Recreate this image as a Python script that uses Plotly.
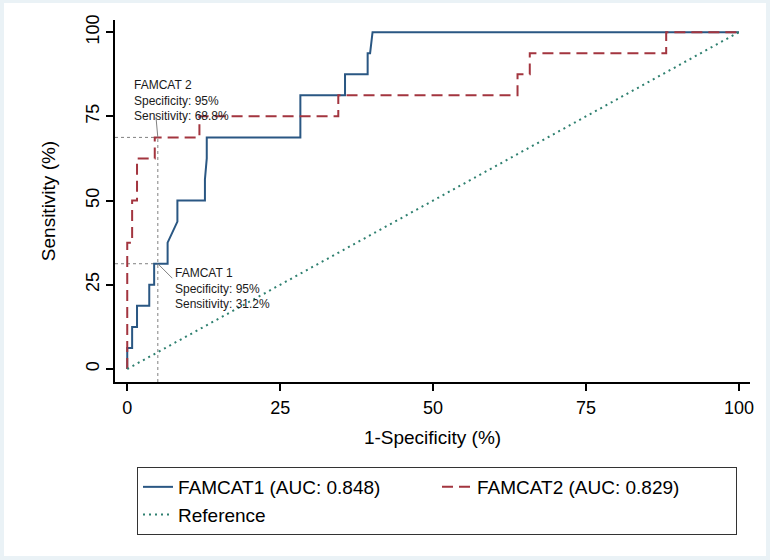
import plotly.graph_objects as go

# ---- data ----
famcat1_x = [0, 0, 0.8, 0.8, 1.6, 1.6, 3.6, 3.6, 4.4, 4.4, 6.6, 6.6, 8.2, 8.2, 12.7, 12.7,
             13.0, 13.0, 28.3, 28.3, 35.6, 35.6, 39.3, 39.3, 39.7, 40.1, 100]
famcat1_y = [0, 6.25, 6.25, 12.5, 12.5, 18.75, 18.75, 25, 25, 31.25, 31.25, 37.5, 43.75, 50,
             50, 56.25, 62.5, 68.75, 68.75, 81.25, 81.25, 87.5, 87.5, 93.75, 93.75, 100, 100]

famcat2_x = [0, 0, 0.8, 0.8, 1.6, 1.6, 4.5, 4.5, 11.8, 11.8, 34.5, 34.5, 63.8, 63.8,
             65.8, 65.8, 88.1, 88.1, 100]
famcat2_y = [0, 37.5, 37.5, 50, 50, 62.5, 62.5, 68.75, 68.75, 75, 75, 81.25, 81.25, 87.5,
             87.5, 93.75, 93.75, 100, 100]

reference_x = [0, 100]
reference_y = [0, 100]

series_names = ["FAMCAT1 (AUC: 0.848)", "FAMCAT2 (AUC: 0.829)", "Reference"]

cutoff_x = 5            # 1 - specificity (95% specificity)
cut_sens = [31.25, 68.75]   # FAMCAT 1, FAMCAT 2 sensitivity at cutoff
cut_labels = [
    ["FAMCAT 1", "Specificity: 95%", "Sensitivity: 31.2%"],
    ["FAMCAT 2", "Specificity: 95%", "Sensitivity: 68.8%"],
]

x_ticks = [0, 25, 50, 75, 100]
y_ticks = [0, 25, 50, 75, 100]
x_range = [-2.0, 101.8]
y_range = [-3.86, 103.6]

FONT = "Liberation Sans, Arial, sans-serif"
BLUE = "#2a5783"
RED = "#a3353f"
GREEN = "#2f8070"
GUIDE = "#808080"

fig = go.Figure()

# guide lines (dotted)
fig.add_trace(go.Scatter(x=[cutoff_x, cutoff_x], y=[y_range[0], max(cut_sens)], mode="lines",
                         line=dict(color=GUIDE, width=1, dash="dot"), showlegend=False, hoverinfo="skip"))
for s in cut_sens:
    fig.add_trace(go.Scatter(x=[x_range[0], cutoff_x], y=[s, s], mode="lines",
                             line=dict(color=GUIDE, width=1, dash="dot"), showlegend=False, hoverinfo="skip"))

fig.add_trace(go.Scatter(x=famcat1_x, y=famcat1_y, mode="lines", name=series_names[0],
                         line=dict(color=BLUE, width=2)))
fig.add_trace(go.Scatter(x=famcat2_x, y=famcat2_y, mode="lines", name=series_names[1],
                         line=dict(color=RED, width=2, dash="11px,6px")))
fig.add_trace(go.Scatter(x=reference_x, y=reference_y, mode="lines", name=series_names[2],
                         line=dict(color=GREEN, width=2, dash="2px,4px")))

# cutoff labels with connector lines
label_offsets = [dict(xshift=15, yshift=-25, ax=16, ay=16),
                 dict(xshift=-26, yshift=37, ax=-2, ay=-22)]
for s, lines, off in zip(cut_sens, cut_labels, label_offsets):
    fig.add_annotation(x=cutoff_x, y=s, text="<br>".join(lines), showarrow=False,
                       xanchor="left", yanchor="middle", align="left",
                       xshift=off["xshift"], yshift=off["yshift"],
                       font=dict(family=FONT, size=12, color="#1a1a1a"))
    fig.add_annotation(x=cutoff_x, y=s, text="", showarrow=True, arrowhead=0, arrowwidth=1,
                       arrowcolor=GUIDE, ax=off["ax"], ay=off["ay"], standoff=0)

W, H = 770, 560
ML, MR, MT, MB = 115, 20, 20, 178
pw, ph = W - ML - MR, H - MT - MB

def px_to_paper_x(p):
    return (p - ML) / pw

def px_to_paper_y(p):
    return (H - MB - p) / ph

# light outer band + white inner region
fig.add_shape(type="rect", xref="paper", yref="paper", layer="below",
              x0=px_to_paper_x(4), x1=px_to_paper_x(W - 4),
              y0=px_to_paper_y(H - 4), y1=px_to_paper_y(3),
              fillcolor="white", line=dict(width=0))

fig.update_layout(
    width=W, height=H,
    margin=dict(l=ML, r=MR, t=MT, b=MB, autoexpand=False),
    paper_bgcolor="#eaf2f6",
    plot_bgcolor="white",
    font=dict(family=FONT, color="#000"),
    xaxis=dict(range=x_range, tickvals=x_ticks, showgrid=False, zeroline=False,
               automargin=False,
               showline=True, linecolor="#000", linewidth=1.5, ticks="outside",
               ticklen=7, tickwidth=1.5, tickcolor="#000", tickfont=dict(size=18),
               ticklabelstandoff=2,
               title=dict(text="1-Specificity (%)", font=dict(size=19), standoff=13)),
    yaxis=dict(range=y_range, tickvals=y_ticks, showgrid=False, zeroline=False,
               automargin=False,
               showline=True, linecolor="#000", linewidth=1.5, ticks="outside",
               ticklen=7, tickwidth=1.5, tickcolor="#000", tickfont=dict(size=18),
               tickangle=-90,
               title=dict(text="Sensitivity (%)", font=dict(size=19), standoff=22)),
    legend=dict(orientation="h", x=px_to_paper_x(137), y=px_to_paper_y(467),
                xanchor="left", yanchor="top", entrywidth=254,
                bordercolor="#333", borderwidth=1, bgcolor="white",
                font=dict(size=19), traceorder="normal"),
    showlegend=True,
)

fig.write_html("out.html", config={"displayModeBar": False},
               post_script="document.body.style.margin='0';document.body.style.overflow='hidden';")
